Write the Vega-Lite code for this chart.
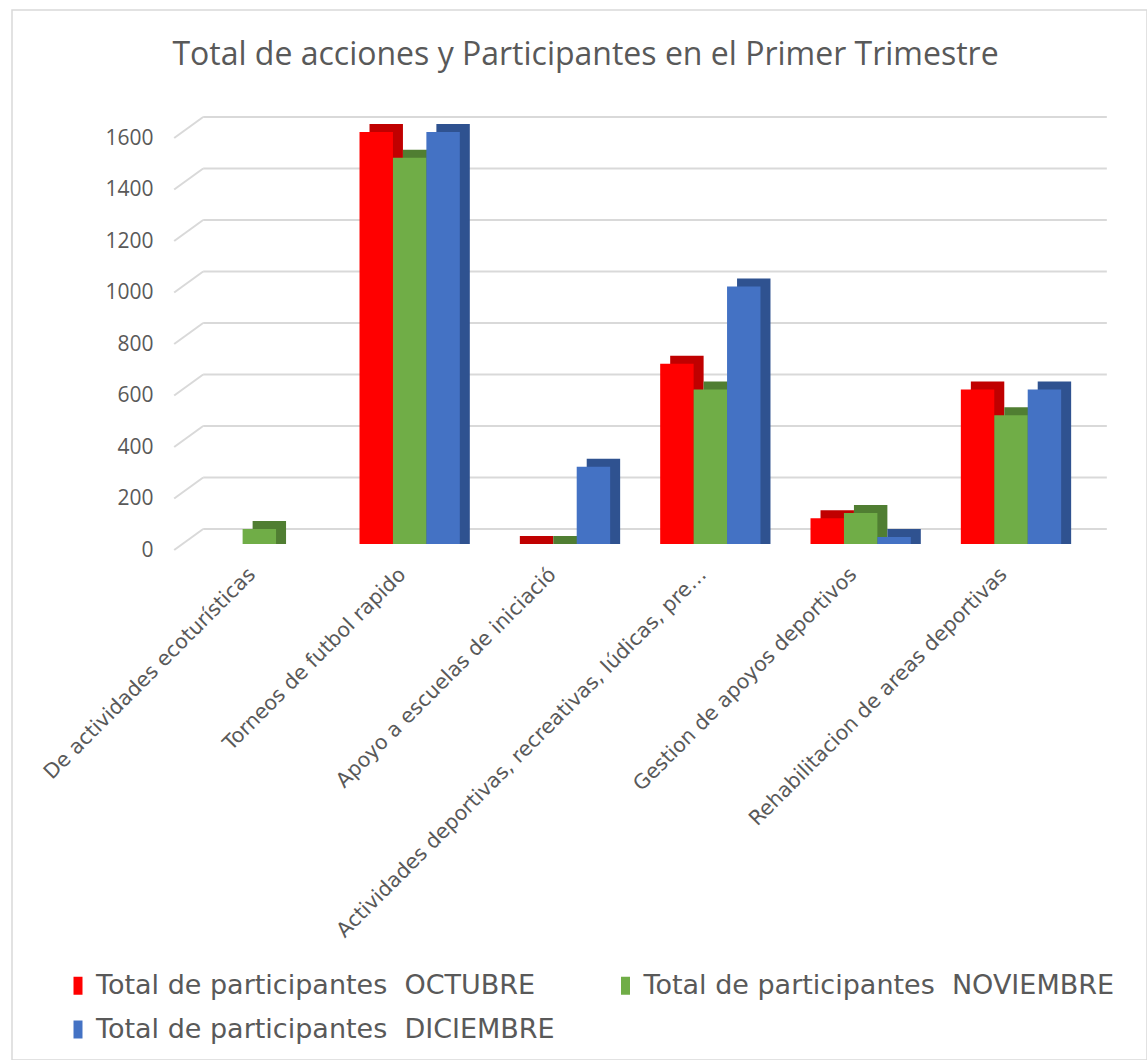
{
  "$schema": "https://vega.github.io/schema/vega-lite/v6.json",
  "autosize": {"type": "none"},
  "padding": {"left": 12, "top": 10, "right": 0, "bottom": 0},
  "width": 1135,
  "height": 1050,
  "background": "white",
  "config": {
    "view": {"stroke": "#d9d9d9", "strokeWidth": 1.5},
    "font": "Open Sans",
    "axisX": {"labelAngle": -45, "labelFont": "DejaVu Sans", "labelFontSize": 20.5, "labelColor": "#595959", "ticks": false, "domain": false, "grid": false, "offset": -496, "labelPadding": 0, "labelOffset": -14, "labelLimit": 900},
    "axisY": {"labelFont": "Open Sans", "labelFontSize": 21, "labelColor": "#595959", "ticks": false, "domain": false, "grid": false, "offset": -141, "labelPadding": 0, "labelOffset": 6, "format": "d"}
  },
  "title": {"text": "Total de acciones y Participantes en el Primer Trimestre", "font": "Open Sans", "fontSize": 32, "fontWeight": "normal", "color": "#595959", "anchor": "middle", "dx": 6, "offset": -87, "baseline": "alphabetic"},
  "datasets": {
    "bars": [
      {"cat": "De actividades ecoturísticas", "serie": "Total de participantes\u00a0 NOVIEMBRE", "val": 58},
      {"cat": "Torneos de futbol rapido", "serie": "Total de participantes\u00a0 OCTUBRE", "val": 1600},
      {"cat": "Torneos de futbol rapido", "serie": "Total de participantes\u00a0 NOVIEMBRE", "val": 1500},
      {"cat": "Torneos de futbol rapido", "serie": "Total de participantes\u00a0 DICIEMBRE", "val": 1600},
      {"cat": "Apoyo a escuelas de iniciació", "serie": "Total de participantes\u00a0 OCTUBRE", "val": 0},
      {"cat": "Apoyo a escuelas de iniciació", "serie": "Total de participantes\u00a0 NOVIEMBRE", "val": 0},
      {"cat": "Apoyo a escuelas de iniciació", "serie": "Total de participantes\u00a0 DICIEMBRE", "val": 300},
      {"cat": "Actividades deportivas, recreativas, lúdicas, pre…", "serie": "Total de participantes\u00a0 OCTUBRE", "val": 700},
      {"cat": "Actividades deportivas, recreativas, lúdicas, pre…", "serie": "Total de participantes\u00a0 NOVIEMBRE", "val": 600},
      {"cat": "Actividades deportivas, recreativas, lúdicas, pre…", "serie": "Total de participantes\u00a0 DICIEMBRE", "val": 1000},
      {"cat": "Gestion de apoyos deportivos", "serie": "Total de participantes\u00a0 OCTUBRE", "val": 100},
      {"cat": "Gestion de apoyos deportivos", "serie": "Total de participantes\u00a0 NOVIEMBRE", "val": 120},
      {"cat": "Gestion de apoyos deportivos", "serie": "Total de participantes\u00a0 DICIEMBRE", "val": 27},
      {"cat": "Rehabilitacion de areas deportivas", "serie": "Total de participantes\u00a0 OCTUBRE", "val": 600},
      {"cat": "Rehabilitacion de areas deportivas", "serie": "Total de participantes\u00a0 NOVIEMBRE", "val": 500},
      {"cat": "Rehabilitacion de areas deportivas", "serie": "Total de participantes\u00a0 DICIEMBRE", "val": 600}
    ],
    "grid": [{"v": 0}, {"v": 200}, {"v": 400}, {"v": 600}, {"v": 800}, {"v": 1000}, {"v": 1200}, {"v": 1400}, {"v": 1600}]
  },
  "layer": [
    {
      "data": {"name": "grid"},
      "mark": {"type": "rule", "color": "#d9d9d9", "strokeWidth": 2, "xOffset": -56, "x2Offset": 96, "yOffset": -15},
      "encoding": {
        "x": {"datum": "De actividades ecoturísticas", "type": "nominal", "axis": {"title": null}, "scale": {"domain": ["De actividades ecoturísticas", "Torneos de futbol rapido", "Apoyo a escuelas de iniciació", "Actividades deportivas, recreativas, lúdicas, pre…", "Gestion de apoyos deportivos", "Rehabilitacion de areas deportivas"], "range": [172, 1074], "paddingInner": 0.335, "paddingOuter": 0.1675}},
        "x2": {"datum": "Rehabilitacion de areas deportivas"},
        "y": {"field": "v", "type": "quantitative", "axis": {"title": null, "values": [0, 200, 400, 600, 800, 1000, 1200, 1400, 1600]}, "scale": {"domain": [0, 1600], "range": [534, 122], "nice": false}}
      }
    },
    {
      "data": {"name": "grid"},
      "mark": {"type": "rule", "color": "#d9d9d9", "strokeWidth": 2, "xOffset": -85, "x2Offset": -56, "yOffset": 6, "y2Offset": -15},
      "encoding": {
        "x": {"datum": "De actividades ecoturísticas", "type": "nominal", "axis": {"title": null}},
        "x2": {"datum": "De actividades ecoturísticas"},
        "y": {"field": "v", "type": "quantitative", "axis": {"title": null, "values": [0, 200, 400, 600, 800, 1000, 1200, 1400, 1600]}},
        "y2": {"field": "v"}
      }
    },
    {
      "data": {"name": "bars"},
      "mark": {"type": "bar", "yOffset": -8, "y2Offset": 0},
      "encoding": {
        "x": {"field": "cat", "type": "nominal", "axis": {"title": null}},
        "xOffset": {"field": "serie", "type": "nominal", "scale": {"domain": ["Total de participantes\u00a0 OCTUBRE", "Total de participantes\u00a0 NOVIEMBRE", "Total de participantes\u00a0 DICIEMBRE"], "range": [10, 110.3]}},
        "y": {"field": "val", "type": "quantitative", "stack": null, "axis": {"title": null, "values": [0, 200, 400, 600, 800, 1000, 1200, 1400, 1600]}},
        "y2": {"datum": 0},
        "color": {"field": "serie", "type": "nominal", "legend": null, "scale": {"domain": ["Total de participantes\u00a0 OCTUBRE", "Total de participantes\u00a0 NOVIEMBRE", "Total de participantes\u00a0 DICIEMBRE"], "range": ["#C00000", "#507E32", "#2F5290"]}}
      }
    },
    {
      "data": {"name": "bars"},
      "mark": {"type": "bar"},
      "encoding": {
        "x": {"field": "cat", "type": "nominal", "axis": {"title": null}},
        "xOffset": {"field": "serie", "type": "nominal", "scale": {"domain": ["Total de participantes\u00a0 OCTUBRE", "Total de participantes\u00a0 NOVIEMBRE", "Total de participantes\u00a0 DICIEMBRE"], "range": [0, 100.3]}},
        "y": {"field": "val", "type": "quantitative", "stack": null, "axis": {"title": null, "values": [0, 200, 400, 600, 800, 1000, 1200, 1400, 1600]}},
        "color": {"field": "serie", "type": "nominal", "scale": {"domain": ["Total de participantes\u00a0 OCTUBRE", "Total de participantes\u00a0 DICIEMBRE", "Total de participantes\u00a0 NOVIEMBRE"], "range": ["#FF0000", "#4472C4", "#70AD47"]},
          "legend": {"orient": "none", "legendX": 52.5, "legendY": 962, "columns": 2, "title": null, "symbolType": "M-0.5,-1H0.5V1H-0.5Z", "symbolSize": 324, "symbolStrokeWidth": 0, "labelFont": "DejaVu Sans", "labelFontSize": 27, "labelColor": "#595959", "labelLimit": 700, "columnPadding": 56.5, "rowPadding": 16, "labelOffset": 4.5}}
      }
    }
  ],
  "resolve": {"scale": {"color": "independent", "xOffset": "independent"}}
}
